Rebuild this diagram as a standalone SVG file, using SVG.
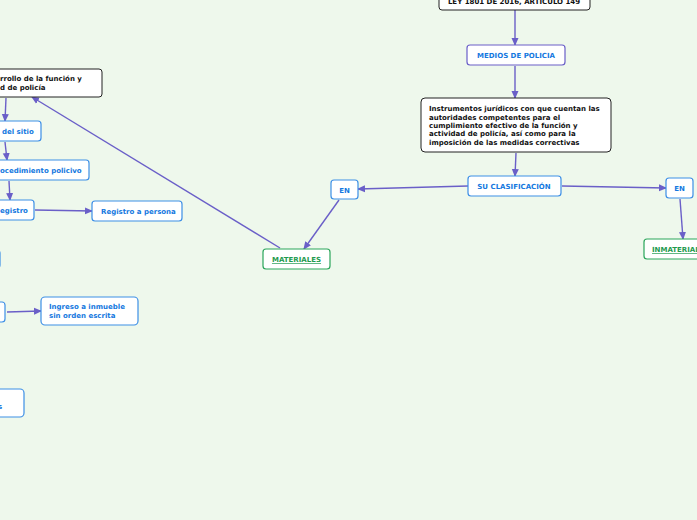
<svg xmlns="http://www.w3.org/2000/svg" width="697" height="520" viewBox="0 0 697 520">
<style>
text{font-family:"DejaVu Sans","Liberation Sans",sans-serif;font-weight:bold;font-size:7px}
.d{fill:#fff;stroke:#222;stroke-width:1}
.b{fill:#fff;stroke:#3d8fe6;stroke-width:1.2}
.p{fill:#fff;stroke:#6a5fc8;stroke-width:1.2}
.g{fill:#fff;stroke:#2aa55a;stroke-width:1.2}
.tb{fill:#1478e0}
.tg{fill:#1e9a4e;text-decoration:underline}
.tk{fill:#111}
.c line{stroke:#6a5fc8;stroke-width:1.4;marker-end:url(#a)}
</style>
<defs><marker id="a" markerWidth="8" markerHeight="8" refX="7" refY="4" orient="auto" markerUnits="userSpaceOnUse"><path d="M0,0.5 L8,4 L0,7.5 z" fill="#6a5fc8"/></marker></defs>
<rect width="697" height="520" fill="#eef8ec"/>
<g class="c">
<line x1="515" y1="10" x2="515" y2="45"/>
<line x1="515" y1="66" x2="515" y2="98"/>
<line x1="516" y1="153" x2="515" y2="176"/>
<line x1="468" y1="186" x2="358" y2="189"/>
<line x1="562" y1="186" x2="666" y2="188"/>
<line x1="339" y1="200" x2="304" y2="249"/>
<line x1="680" y1="199" x2="683" y2="239"/>
<line x1="280" y1="248" x2="32" y2="97"/>
<line x1="6" y1="98" x2="5" y2="121"/>
<line x1="5" y1="142" x2="7" y2="160"/>
<line x1="9" y1="181" x2="10" y2="200"/>
<line x1="35" y1="210" x2="92" y2="211"/>
<line x1="7" y1="312" x2="41" y2="311"/>
</g>
<g id="ley"><rect class="d" x="439" y="-8" width="151" height="18" rx="3"/><text class="tk" x="514" y="4" text-anchor="middle">LEY 1801 DE 2016, ARTICULO 149</text></g>
<g id="medios"><rect class="p" x="467" y="45" width="98" height="20" rx="3"/><text class="tb" x="516" y="58" text-anchor="middle">MEDIOS DE POLICIA</text></g>
<g id="instr"><rect class="d" x="421" y="98" width="190" height="54" rx="4"/><text class="tk" x="429" y="111">Instrumentos jurídicos con que cuentan las</text><text class="tk" x="429" y="120">autoridades competentes para el</text><text class="tk" x="429" y="128">cumplimiento efectivo de la función y</text><text class="tk" x="429" y="136">actividad de policía, así como para la</text><text class="tk" x="429" y="145">imposición de las medidas correctivas</text></g>
<g id="clas"><rect class="b" x="468" y="176" width="93" height="20" rx="3"/><text class="tb" x="514" y="189" text-anchor="middle">SU CLASIFICACIÓN</text></g>
<g id="en1"><rect class="b" x="331" y="180" width="27" height="19" rx="3"/><text class="tb" x="344.5" y="192.5" text-anchor="middle">EN</text></g>
<g id="en2"><rect class="b" x="666" y="178" width="27" height="20" rx="3"/><text class="tb" x="679.5" y="191" text-anchor="middle">EN</text></g>
<g id="mat"><rect class="g" x="263" y="249" width="67" height="20" rx="3"/><text class="tg" x="296.5" y="262" text-anchor="middle">MATERIALES</text></g>
<g id="inmat"><rect class="g" x="644" y="239" width="80" height="20" rx="3"/><text class="tg" x="652" y="252">INMATERIALES</text></g>
<g id="desa"><rect class="d" x="-10" y="69" width="112" height="28" rx="3"/><text class="tk" x="0" y="81">rrollo de la función y</text><text class="tk" x="0" y="90">d de policía</text></g>
<g id="sitio"><rect class="b" x="-10" y="121" width="51" height="20" rx="3"/><text class="tb" x="2" y="134">del sitio</text></g>
<g id="proc"><rect class="b" x="-10" y="160" width="99" height="20" rx="3"/><text class="tb" x="0" y="173">ocedimiento policivo</text></g>
<g id="reg"><rect class="b" x="-10" y="200" width="44" height="20" rx="3"/><text class="tb" x="0" y="213">egistro</text></g>
<g id="regp"><rect class="b" x="92" y="201" width="90" height="20" rx="3"/><text class="tb" x="101" y="214">Registro a persona</text></g>
<g id="n1"><rect class="b" x="-20" y="250" width="20" height="18" rx="3"/></g>
<g id="n2"><rect class="b" x="-20" y="302" width="25" height="20" rx="3"/></g>
<g id="ingreso"><rect class="b" x="41" y="297" width="97" height="28" rx="4"/><text class="tb" x="49" y="309">Ingreso a inmueble</text><text class="tb" x="49" y="318">sin orden escrita</text></g>
<g id="n3"><rect class="b" x="-20" y="389" width="44" height="28" rx="4"/><text class="tb" x="-2" y="409">s</text></g>
</svg>
